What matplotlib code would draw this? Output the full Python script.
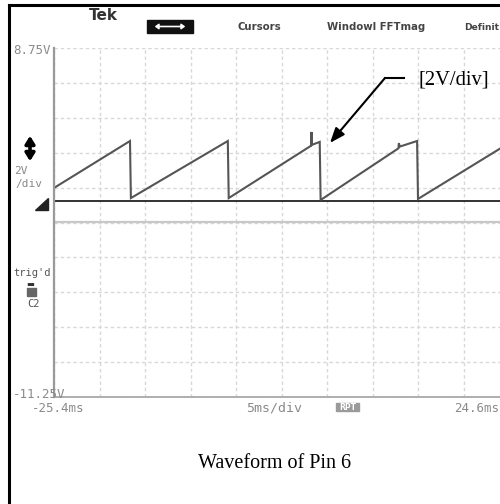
import matplotlib
matplotlib.use("Agg")
import matplotlib.pyplot as plt
from matplotlib.patches import Polygon, FancyArrowPatch, Rectangle
from matplotlib.lines import Line2D

# ---- data (time in ms, voltage in V) ----
t_ms = [-25.4, -17.05, -16.95, -6.3, -6.2, 2.85, 2.9, 2.95, 3.8, 3.9,
        12.45, 12.5, 12.6, 14.5, 14.6, 24.6]
v_V = [0.73, 3.42, 0.15, 3.42, 0.15, 3.15, 3.94, 3.2, 3.37, 0.04,
       3.0, 3.3, 3.1, 3.42, 0.1, 3.3]
x_range = [-25.4, 24.6]
y_range = [-11.25, 8.75]
ground_level = 0.0
split_level = -1.2
top_label = "8.75V"
bottom_label = "-11.25V"
left_time = "-25.4ms"
right_time = "24.6ms"
timebase = "5ms/div"
menu_items = ["Cursors", "Windowl FFTmag", "Definit"]
caption = "Waveform of Pin 6"
note = "[2V/div]"

W, H = 500, 504
fig = plt.figure(figsize=(W / 100, H / 100), dpi=100)
fig.patch.set_facecolor("white")

def fx(px):
    return px / W

def fy(py):
    return 1 - py / H

# outer frame (left + top)
fig.add_artist(Line2D([fx(9), fx(9)], [fy(5), fy(504)], color="black", lw=2.2, transform=fig.transFigure))
fig.add_artist(Line2D([fx(9), fx(500)], [fy(5), fy(5)], color="black", lw=2.2, transform=fig.transFigure))

# axes: x 54..509 px, y 48..397 px
ax = fig.add_axes([fx(54), fy(397), fx(509) - fx(54), fy(48) - fy(397)])
ax.set_xlim(*x_range)
ax.set_ylim(*y_range)
ax.set_xticks([x_range[0] + 5 * i for i in range(11)])
ax.set_yticks([y_range[0] + 2 * i for i in range(11)])
ax.grid(True, color="#d8d8d8", lw=1.0, ls=(0, (2.5, 2)))
ax.tick_params(length=0, labelleft=False, labelbottom=False)
for s in ["top", "right"]:
    ax.spines[s].set_visible(False)
ax.spines["left"].set_color("#9a9a9a")
ax.spines["left"].set_linewidth(1.6)
ax.spines["bottom"].set_color("#a8a8a8")
ax.spines["bottom"].set_linewidth(1.3)
ax.set_facecolor("white")

ax.axhline(split_level, color="#c8c8c8", lw=1.6)
ax.axhline(ground_level, color="#222222", lw=1.3)
ax.plot(t_ms, v_V, color="#555555", lw=1.5, solid_joinstyle="miter")

# annotation arrow and label
ax.plot([10.97, 13.06], [7.03, 7.03], color="black", lw=1.5)
ax.annotate("", xy=(4.93, 3.31), xytext=(10.97, 7.03),
            arrowprops=dict(arrowstyle="-|>,head_length=0.9,head_width=0.35",
                            color="black", lw=1.5, shrinkA=0, shrinkB=0))
ax.text(14.6, 6.9, note, family="Liberation Serif", fontsize=14.8, va="center", ha="left")

# menu bar
fig.text(fx(89), fy(15), "Tek", fontsize=11, fontweight="bold", color="#333333", va="center")
fig.add_artist(Rectangle((fx(147), fy(33)), fx(46), fy(20) - fy(33), color="#111111", transform=fig.transFigure))
fig.add_artist(FancyArrowPatch((fx(152), fy(26.5)), (fx(188), fy(26.5)), arrowstyle="<|-|>,head_length=2,head_width=1.5",
                               color="white", lw=1.2, transform=fig.transFigure))
for xp, lab, fs in zip([237, 327, 464], menu_items, [7.3, 7.3, 6.6]):
    fig.text(fx(xp), fy(27), lab, fontsize=fs, fontweight="bold", color="#444444", va="center")

# left side labels
gray = "#8a8a8a"
mono = "DejaVu Sans Mono"
fig.text(fx(13), fy(51), top_label, fontsize=9, family=mono, color=gray, va="center")
fig.add_artist(FancyArrowPatch((fx(30), fy(133)), (fx(30), fy(164)), arrowstyle="<|-|>,head_length=4.5,head_width=2.8",
                               color="black", lw=2.6, transform=fig.transFigure))
fig.text(fx(14), fy(171), "2V", fontsize=8, family=mono, color=gray, va="center")
fig.text(fx(15), fy(184), "/div", fontsize=8, family=mono, color=gray, va="center")
fig.add_artist(Polygon([(fx(35), fy(210)), (fx(48), fy(210)), (fx(48), fy(198))], closed=True,
                       color="#222222", transform=fig.transFigure))
fig.text(fx(13), fy(273), "trig'd", fontsize=7.5, family=mono, color="#555555", va="center")
fig.text(fx(26), fy(284), "▬", fontsize=6, color="#333333", va="center")
fig.add_artist(Rectangle((fx(27), fy(296)), fx(9), fy(288) - fy(296), color="#666666", transform=fig.transFigure))
fig.text(fx(27), fy(304), "C2", fontsize=7.5, family=mono, color="#555555", va="center")
fig.text(fx(13), fy(395), bottom_label, fontsize=9, family=mono, color=gray, va="center")
fig.text(fx(32), fy(409), left_time, fontsize=9, family=mono, color=gray, va="center")

# bottom readouts
fig.text(fx(246), fy(408), timebase, fontsize=9.5, family=mono, color=gray, va="center")
fig.add_artist(Rectangle((fx(336), fy(411)), fx(23), fy(403) - fy(411), color="#9a9a9a", transform=fig.transFigure))
fig.text(fx(347.5), fy(407), "RPT", fontsize=5.5, color="white", va="center", ha="center", fontweight="bold")
fig.text(fx(454), fy(408), right_time, fontsize=9, family=mono, color=gray, va="center")

# caption
fig.text(fx(275), fy(463), caption, family="Liberation Serif", fontsize=14.5, ha="center", va="center")

fig.savefig("out.png", dpi=100)
